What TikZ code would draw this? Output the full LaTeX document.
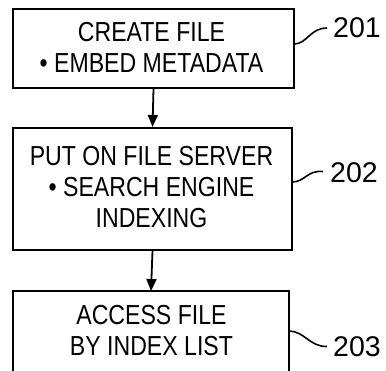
\documentclass[tikz,border=0pt]{standalone}
\usepackage{fontspec}
\setmainfont[FakeStretch=0.84]{Liberation Sans}
\newfontfamily\numfont{Liberation Sans}
\usetikzlibrary{arrows.meta,calc}
\tikzset{
  boxst/.style={draw=black, line width=2.2pt, inner sep=0pt},
  txt/.style={align=center, inner sep=0pt, font=\fontsize{27.5}{31}\selectfont},
  lbl/.style={anchor=west, inner sep=0pt, font=\numfont\fontsize{28.5}{31}\selectfont},
  flow/.style={line width=1.8pt, -{Triangle[length=12pt,width=10pt]}},
  sq/.style={line width=1.6pt},
}
\begin{document}
\begin{tikzpicture}[x=1pt,y=-1pt]
\clip (0,0) rectangle (386,370);
\fill[white] (0,0) rectangle (386,370);
% boxes
\node[boxst, minimum width=281pt, minimum height=79pt] (b1) at (153.5,48.5) {};
\node[boxst, minimum width=279pt, minimum height=122pt] (b2) at (152.5,189) {};
\coordinate (b3nw) at (13,291);
\coordinate (b3ne) at (289,291);
\draw[line width=2.2pt] (13,380) -- (b3nw) -- (b3ne) -- (289,380);
\coordinate (b3n) at ($(b3nw)!0.5!(b3ne)$);
% texts
\node[txt] (t1) at (151.5,47.5) {CREATE FILE\\ • EMBED METADATA};
\node[txt] (t2) at (151.5,187.5) {PUT ON FILE SERVER\\ • SEARCH ENGINE\\ INDEXING};
\node[txt] (t3) at (151.5,331) {ACCESS FILE\\ BY INDEX LIST};
% arrows
\draw[flow] (b1.south) -- (b2.north);
\draw[flow] (b2.south) -- (b3n);
% labels
\node[lbl] (l1) at (333,28) {201};
\node[lbl] (l2) at (330,172.5) {202};
\node[lbl] (l3) at (333,346.5) {203};
\coordinate (s1) at (294,44);
\coordinate (s2) at (292,182);
\coordinate (s3) at (289,331);
\draw[sq] (s1) .. controls (307,44) and (310,28) .. ($(l1.west)+(-6,0)$);
\draw[sq] (s2) .. controls (305,182) and (307,170) .. ($(l2.west)+(-7,-1)$);
\draw[sq] (s3) .. controls (304,331) and (310,347) .. ($(l3.west)+(-6,0)$);
\end{tikzpicture}
\end{document}
